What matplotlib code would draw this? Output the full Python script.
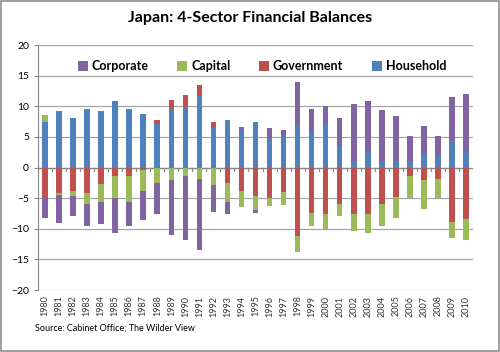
import numpy as np
import matplotlib.pyplot as plt
from matplotlib.patches import Rectangle

plt.rcParams['font.family'] = ['Lato', 'DejaVu Sans']

years = [str(y) for y in range(1980, 2011)]

# sector balances, % of GDP
household = [7.4, 9.2, 8.1, 9.6, 9.3, 10.8, 9.6, 8.75, 7.1, 9.6,
             9.9, 11.75, 6.6, 7.7, 6.35, 7.45, 4.65, 5.35, 7.0, 5.9,
             7.15, 3.55, 1.1, 2.5, 1.15, 1.15, 1.1, 2.2, 2.1, 4.4, 2.75]
government = [-4.8, -4.1, -3.9, -4.2, -2.7, -1.4, -1.4, -0.4, 0.7, 1.4,
              2.0, 1.7, 0.8, -2.45, -3.75, -4.65, -5.0, -4.0, -11.2, -7.4,
              -7.65, -6.0, -7.65, -7.65, -5.95, -4.85, -1.3, -2.1, -1.85, -8.85, -8.45]
capital = [1.1, -0.4, -0.7, -1.7, -2.9, -3.6, -4.2, -3.4, -2.55, -2.1,
           -1.35, -1.85, -2.85, -3.1, -2.65, -2.2, -1.3, -2.1, -2.6, -2.15,
           -2.4, -1.85, -2.65, -3.1, -3.55, -3.45, -3.6, -4.65, -3.05, -2.65, -3.4]
corporate = [-3.4, -4.5, -3.3, -3.6, -3.55, -5.65, -3.95, -4.75, -5.0, -8.9,
             -10.5, -11.65, -4.45, -2.05, 0.2, -0.65, 1.75, 0.85, 6.9, 3.7,
             2.85, 4.55, 9.35, 8.3, 8.3, 7.2, 4.1, 4.65, 3.1, 7.15, 9.25]

# stacking order (bottom first) as in the original Excel chart
series = [("Household", household, "#4F81BD"),
          ("Government", government, "#C0504D"),
          ("Capital", capital, "#9BBB59"),
          ("Corporate", corporate, "#8064A2")]

fig = plt.figure(figsize=(5, 3.52), dpi=100)
ax = fig.add_axes([0.076, 0.176, 0.87, 0.696])

x = np.arange(len(years))
pos_base = np.zeros(len(years))
neg_base = np.zeros(len(years))
handles = {}
for name, vals, col in series:
    v = np.array(vals)
    base = np.where(v >= 0, pos_base, neg_base)
    h = ax.bar(x, v, bottom=base, width=0.4, color=col, zorder=3, label=name)
    handles[name] = h
    pos_base = pos_base + np.where(v >= 0, v, 0)
    neg_base = neg_base + np.where(v < 0, v, 0)

ax.set_xlim(-0.5, len(years) - 0.5)
ax.set_ylim(-20, 20)
ax.set_yticks(range(-20, 21, 5))
ax.set_xticks(x)
ax.set_xticklabels(years, rotation=90, fontsize=6.5, color='#333333')
ax.tick_params(axis='y', labelsize=7.5, length=3, color='#888888')
ax.tick_params(axis='x', length=0, pad=4)
ax.yaxis.grid(True, color='#a6a6a6', linewidth=0.9, zorder=0)
for s in ['top', 'right', 'bottom']:
    ax.spines[s].set_visible(False)
ax.spines['left'].set_color('#888888')

# category axis crossing at zero with small ticks
ax.axhline(0, color='#888888', linewidth=0.9, zorder=2)
for xi in np.arange(-0.5, len(years), 1.0):
    ax.plot([xi, xi], [0, -0.5], color='#888888', linewidth=0.8, zorder=2)

order = ["Corporate", "Capital", "Government", "Household"]
ax.legend([handles[n] for n in order], order, ncol=4, frameon=False,
          loc='center', bbox_to_anchor=(0.515, 0.914),
          prop={'weight': 'bold', 'size': 9}, handlelength=0.8,
          handleheight=0.8, handletextpad=0.3, columnspacing=2.3)

fig.text(0.5, 0.949, "Japan: 4-Sector Financial Balances", ha='center',
         va='center', fontsize=11.5, fontweight='bold')
fig.text(0.07, 0.068, "Source: Cabinet Office; The Wilder View", ha='left',
         va='center', fontsize=6.5)

fig.patches.append(Rectangle((0.002, 0.003), 0.995, 0.993, transform=fig.transFigure,
                             fill=False, edgecolor='#8c8c8c', linewidth=1.2))

fig.savefig("out.png", dpi=100)
